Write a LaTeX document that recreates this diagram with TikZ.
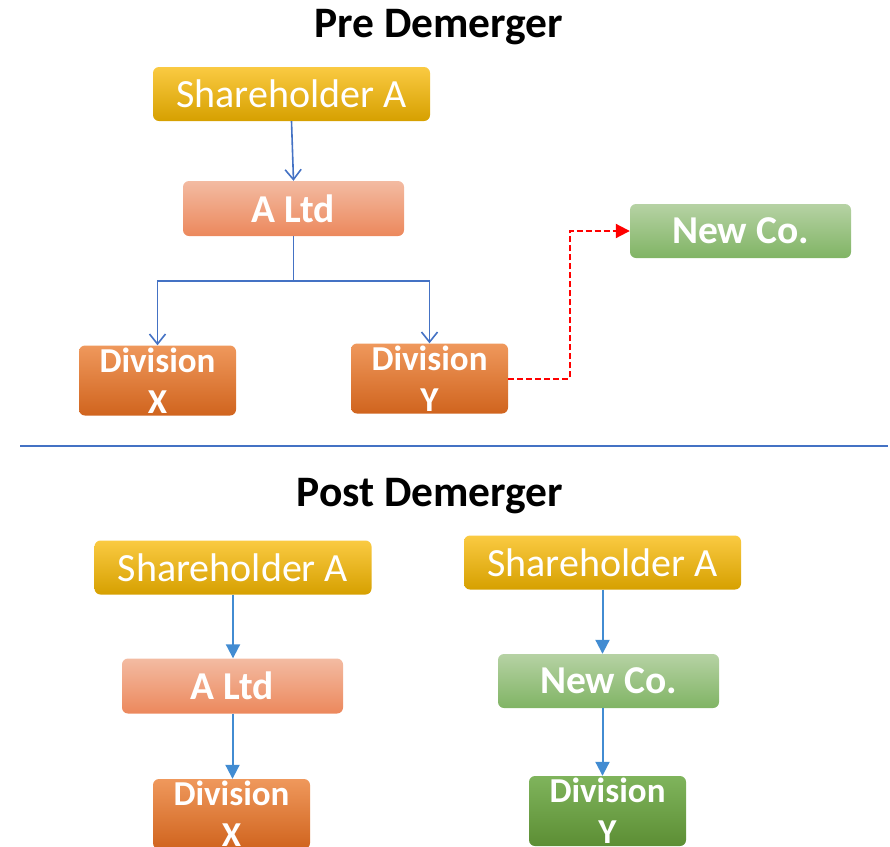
\documentclass[tikz,border=0pt]{standalone}
\usepackage{fontspec}
\setmainfont{Carlito}
\usetikzlibrary{arrows.meta}

\definecolor{goldtop}{RGB}{250,202,66}
\definecolor{goldbot}{RGB}{214,160,0}
\definecolor{ltdtop}{RGB}{243,187,162}
\definecolor{ltdbot}{RGB}{236,136,92}
\definecolor{divtop}{RGB}{239,152,92}
\definecolor{divbot}{RGB}{208,100,30}
\definecolor{newtop}{RGB}{182,210,164}
\definecolor{newbot}{RGB}{128,180,100}
\definecolor{grntop}{RGB}{127,180,92}
\definecolor{grnbot}{RGB}{92,142,52}
\definecolor{linkblue}{RGB}{68,114,196}
\definecolor{postblue}{RGB}{66,140,210}

\begin{document}
\begin{tikzpicture}
  [
    x = 1pt, y = -1pt,
    box/.style = {rectangle, rounded corners = 6pt, inner sep = 0pt, text = white, align = center},
    holder/.style = {box, top color = goldtop, bottom color = goldbot, minimum width = 277pt, minimum height = 54pt, font = \fontsize{40}{42}\selectfont},
    ltd/.style = {box, top color = ltdtop, bottom color = ltdbot, minimum width = 221pt, minimum height = 55pt, font = \fontsize{39.5}{42}\selectfont\bfseries},
    newco/.style = {box, top color = newtop, bottom color = newbot, minimum width = 221pt, minimum height = 54pt, font = \fontsize{39.5}{42}\selectfont\bfseries},
    division/.style = {box, top color = divtop, bottom color = divbot, minimum width = 157pt, minimum height = 70pt, font = \fontsize{35}{41}\selectfont\bfseries},
    title/.style = {font = \fontsize{43.5}{46}\selectfont\bfseries},
    link/.style = {draw = linkblue, line width = 1.6pt, -{Straight Barb[length = 10pt, width = 16pt, line width = 1.6pt]}},
    post/.style = {draw = postblue, line width = 2pt, -{Triangle[length = 14pt, width = 14pt]}}
  ]
    \useasboundingbox (0,0) rectangle (890,846);
    \clip (0,0) rectangle (890,846);

    % before the split
    \node (pre) [title] at (439,27) {Pre Demerger};
    \node (sa) [holder] at (291.5,94) {Shareholder A};
    \node (altd) [ltd] at (293.5,208.5) {A Ltd};
    \node (nc) [newco] at (740.5,231) {New Co.};
    \node (divx) [division] at (157.5,380.5) {Division\\X};
    \node (divy) [division] at (429.5,378.5) {Division\\Y};
    \coordinate (fork) at (293.5,281);
    \coordinate (turn) at (570,300);
    \draw [link] (sa.south) -- (altd.north);
    \draw [draw = linkblue, line width = 1.6pt] (altd.south) -- (fork);
    \draw [link] (fork) -| (divx.north);
    \draw [link] (fork) -| (divy.north);
    \draw [red, dashed, line width = 2pt, dash pattern = on 6pt off 3pt, -{Triangle[length = 14pt, width = 14pt]}]
      (divy.east) -| (turn) |- (nc.west);

    \draw [draw = linkblue, line width = 1.6pt] (20,446) -- (888,446);

    % after the split
    \node (post) [title] at (430,496) {Post Demerger};
    \node (sa2) [holder] at (233,567.5) {Shareholder A};
    \node (altd2) [ltd] at (232.5,686) {A Ltd};
    \node (divx2) [division] at (231.5,814) {Division\\X};
    \node (sa3) [holder] at (602.5,562.5) {Shareholder A};
    \node (nc2) [newco] at (608.5,681) {New Co.};
    \node (divy2) [division, top color = grntop, bottom color = grnbot] at (607.5,811) {Division\\Y};
    \draw [post] (sa2.south) -- (sa2.south |- altd2.north);
    \draw [post] (altd2.south) -- (altd2.south |- divx2.north);
    \draw [post] (sa3.south) -- (sa3.south |- nc2.north);
    \draw [post] (sa3.south |- nc2.south) -- (sa3.south |- divy2.north);
  \end{tikzpicture}
\end{document}
